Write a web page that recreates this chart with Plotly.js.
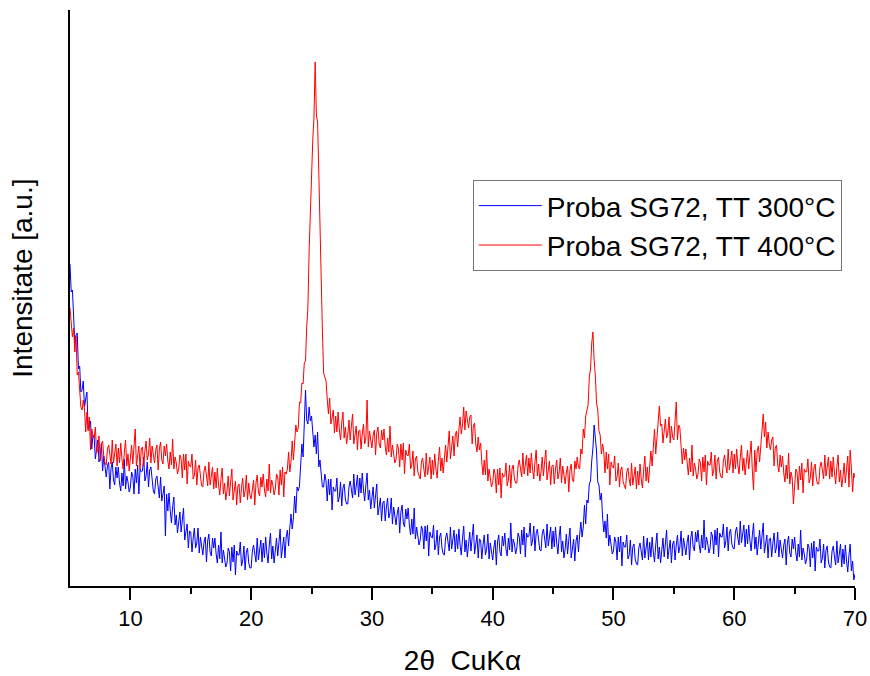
<!DOCTYPE html>
<html>
<head>
<meta charset="utf-8">
<script src="https://cdn.plot.ly/plotly-3.0.1.min.js"></script>
<style>html,body{margin:0;padding:0;background:#fff}#chart{width:870px;height:676px}</style>
</head>
<body>
<div id="chart"></div>
<script>
// 2-theta scan: start and step (degrees)
const twoThetaStart = 5.0;
const twoThetaStep = 0.1;

const seriesNames = ["Proba SG72, TT 300\u00B0C", "Proba SG72, TT 400\u00B0C"];

// Intensity (a.u.), sample TT 300 C, every 0.1 degree (one row = 1 degree)
const intensity300 = [
  322,294,296,266,243,251,253,217,220,194,
  196,205,179,187,194,157,159,165,137,151,
  149,127,139,146,124,128,142,115,130,116,
  109,120,124,97,118,124,106,101,119,108,
  119,103,95,113,100,127,97,110,104,94,
  99,114,110,92,117,103,121,92,117,114,
  115,129,105,110,124,99,116,119,102,95,
  92,107,110,97,88,109,85,92,100,50,
  92,75,93,75,63,79,89,61,71,53,
  61,74,54,66,78,46,53,62,38,55,
  54,34,48,58,38,43,58,33,49,37,
  31,44,49,24,45,52,34,30,48,38,
  48,32,23,41,27,54,23,36,29,19,
  23,38,34,15,39,24,41,11,35,31,
  31,44,20,25,40,16,34,38,23,18,
  18,35,41,30,24,48,26,36,46,24,
  43,28,49,33,23,41,53,27,40,23,
  33,48,30,44,57,28,37,49,28,49,
  56,40,58,72,57,68,90,73,99,95,
  100,124,142,129,164,196,166,162,179,165,
  170,151,139,151,132,154,119,126,114,99,
  99,112,105,85,107,91,107,76,99,95,
  95,108,84,89,104,80,98,102,87,82,
  82,99,105,94,88,112,91,100,111,89,
  108,93,113,96,85,101,113,86,96,77,
  86,99,78,91,102,71,78,88,65,83,
  85,65,79,88,68,73,88,62,79,66,
  61,73,79,53,74,81,63,59,77,67,
  78,61,51,67,52,78,47,59,52,41,
  46,60,56,37,60,45,61,30,54,49,
  48,61,36,41,56,31,49,53,38,32,
  31,48,53,42,35,59,37,46,56,34,
  52,37,57,41,31,48,60,34,46,29,
  39,54,35,49,62,32,40,51,28,47,
  46,27,41,51,31,37,52,27,43,31,
  26,39,46,21,44,51,34,30,50,40,
  53,37,30,48,36,63,34,47,42,32,
  38,53,49,32,56,41,59,29,53,49,
  50,63,40,45,60,35,53,57,42,36,
  35,52,57,45,38,62,40,49,59,37,
  55,39,59,43,32,49,60,34,45,28,
  37,52,32,46,58,28,36,47,25,45,
  51,34,51,64,49,59,81,62,86,83,
  102,105,125,138,161,146,135,104,101,86,
  93,69,54,65,48,72,40,51,43,32,
  35,49,44,26,49,34,50,20,44,39,
  39,51,27,31,46,21,39,42,27,22,
  21,38,43,33,26,50,28,38,48,26,
  44,29,49,34,24,41,53,27,39,23,
  33,48,29,43,56,27,35,46,23,42,
  45,26,41,51,33,39,55,30,48,36,
  31,44,51,26,48,55,39,35,54,44,
  56,41,33,51,38,66,36,49,43,33,
  38,54,50,32,56,41,58,29,53,49,
  49,62,38,44,59,35,53,57,42,38,
  37,54,59,48,41,65,43,52,61,39,
  57,42,61,45,35,51,63,37,49,31,
  41,56,37,50,63,33,40,51,28,47,
  48,29,43,53,33,39,54,29,46,33,
  28,41,47,21,43,50,33,29,47,37,
  49,33,25,42,29,56,26,38,32,22,
  27,42,38,19,43,28,45,15,39,35,
  35,47,23,28,42,18,36,40,24,19,
  18,35,40,29,21,45,23,32,42,19,
  37,22,41,25,14,31,42,15,25,6,
  12
];

// Intensity (a.u.), sample TT 400 C, every 0.1 degree (one row = 1 degree)
const intensity400 = [
  278,265,249,258,234,250,211,214,198,179,
  176,186,177,154,174,155,169,136,157,150,
  148,159,133,136,150,125,142,145,129,123,
  121,137,141,130,122,146,123,132,142,120,
  138,123,143,127,117,134,146,120,132,115,
  126,141,122,137,157,120,129,140,117,137,
  139,120,135,145,126,132,148,123,140,128,
  123,136,141,116,137,144,126,122,140,130,
  142,125,117,134,121,147,117,129,123,112,
  117,131,127,108,132,116,132,102,125,120,
  119,132,107,111,126,101,118,121,106,100,
  99,115,120,108,100,124,101,110,119,97,
  114,98,118,101,91,107,118,92,103,86,
  95,110,90,104,117,86,94,105,81,100,
  102,83,98,108,89,95,111,86,103,91,
  87,100,106,81,103,111,94,90,109,99,
  112,96,89,107,95,122,93,106,101,91,
  97,112,109,91,116,101,119,89,114,112,
  117,134,114,124,145,126,150,161,154,158,
  184,183,203,202,223,225,259,279,335,376,
  423,446,468,524,471,464,415,356,291,255,
  213,210,205,187,172,188,162,168,176,153,
  170,154,174,157,146,163,174,148,159,142,
  151,166,146,160,172,142,149,160,136,155,
  156,137,152,162,142,148,186,139,155,143,
  138,151,156,131,153,159,142,138,156,146,
  157,140,131,148,134,160,129,141,134,123,
  127,142,137,119,142,126,143,112,136,131,
  130,142,117,121,135,110,127,130,114,109,
  107,124,128,117,109,133,111,119,129,107,
  126,111,132,117,108,126,139,115,128,113,
  124,141,124,140,155,127,137,150,130,151,
  155,139,156,169,152,161,179,156,175,164,
  158,169,171,142,160,163,142,134,149,136,
  143,123,111,126,111,136,105,117,110,99,
  103,117,112,93,117,101,118,88,113,109,
  110,123,100,106,121,98,117,121,107,103,
  103,120,126,115,109,133,112,121,131,110,
  128,113,133,117,107,124,136,110,122,105,
  114,129,110,124,136,106,114,125,101,120,
  121,102,117,126,107,113,128,103,120,107,
  102,114,120,94,116,122,106,104,125,117,
  129,119,117,137,132,157,148,170,176,181,
  209,217,243,254,226,210,183,176,155,151,
  132,142,134,113,134,117,132,101,124,119,
  118,130,105,109,123,99,116,119,104,99,
  97,114,118,107,100,123,101,110,119,97,
  115,101,122,107,98,116,130,105,119,103,
  116,135,120,139,157,132,147,163,180,160,
  162,143,157,167,148,153,169,143,160,149,
  146,161,184,146,161,158,132,122,138,126,
  137,120,111,128,114,141,110,123,117,107,
  112,127,123,105,129,114,131,101,125,121,
  121,134,110,115,131,107,125,129,114,109,
  108,125,131,120,113,137,116,125,135,113,
  132,117,137,121,112,129,141,115,128,111,
  121,136,117,132,145,115,96,136,114,135,
  140,124,143,157,172,149,164,138,154,142,
  136,146,149,120,138,141,121,114,131,119,
  130,113,104,121,107,133,102,114,108,82,
  102,117,114,96,120,106,123,93,117,114,
  114,127,103,108,124,100,118,122,107,102,
  102,119,124,114,107,131,110,119,129,107,
  125,109,129,113,102,119,131,104,116,99,
  108,123,103,117,130,99,136,118,94,113,
  108
];

const twoTheta = intensity300.map((_, i) => +(twoThetaStart + i * twoThetaStep).toFixed(2));

const tickVals = [10, 20, 30, 40, 50, 60, 70];
const tickText = ["10", "20", "30", "40", "50", "60", "70"];
const minorTickVals = [15, 25, 35, 45, 55, 65];

const FONT = "Arial, 'Liberation Sans', sans-serif";

const traces = [
  { x: twoTheta, y: intensity300, name: seriesNames[0], type: "scatter", mode: "lines",
    line: { color: "#0000ff", width: 1 } },
  { x: twoTheta, y: intensity400, name: seriesNames[1], type: "scatter", mode: "lines",
    line: { color: "#ff0000", width: 1 } }
];

const layout = {
  width: 870, height: 676,
  margin: { l: 70, r: 15, t: 10, b: 90 },
  paper_bgcolor: "#ffffff", plot_bgcolor: "#ffffff",
  font: { family: FONT, color: "#000" },
  showlegend: true,
  legend: {
    x: 0.513, y: 0.705, xanchor: "left", yanchor: "top",
    bordercolor: "#777", borderwidth: 1, bgcolor: "#ffffff",
    font: { family: FONT, size: 28, color: "#000" },
    itemwidth: 63, tracegroupgap: 0
  },
  xaxis: {
    range: [5, 70], showgrid: false, zeroline: false,
    showline: true, linecolor: "#000", linewidth: 2,
    ticks: "outside", ticklen: 12, tickwidth: 2, tickcolor: "#000",
    tickvals: tickVals, ticktext: tickText,
    tickfont: { family: FONT, size: 22, color: "#000" },
    minor: { tickvals: minorTickVals, ticks: "outside", ticklen: 6, tickwidth: 2, tickcolor: "#000" },
    title: { text: "2\u03B8  CuK\u03B1", font: { family: FONT, size: 28, color: "#000" }, standoff: 20 }
  },
  yaxis: {
    range: [0, 576], showgrid: false, zeroline: false,
    showline: true, linecolor: "#000", linewidth: 2,
    ticks: "", showticklabels: false
  },
  annotations: [{
    text: "Intensitate [a.u.]", textangle: -90, showarrow: false,
    xref: "paper", yref: "paper", x: -0.06, y: 0.535,
    xanchor: "center", yanchor: "middle",
    font: { family: FONT, size: 28, color: "#000" }
  }]
};

Plotly.newPlot("chart", traces, layout, { displayModeBar: false, staticPlot: true });
</script>
</body>
</html>
